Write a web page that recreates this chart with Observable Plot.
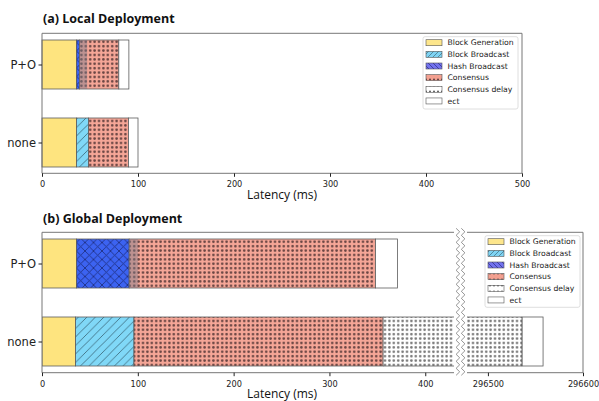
<!DOCTYPE html>
<html><head><meta charset="utf-8">
<script src="https://cdn.jsdelivr.net/npm/d3@7"></script>
<script src="https://cdn.jsdelivr.net/npm/@observablehq/plot@0.6"></script>
<style>
body{margin:0;background:#fff;}
#wrap{position:relative;width:599px;height:401px;overflow:hidden;background:#fff;}
#wrap svg{position:absolute;left:0;overflow:visible;}
</style></head><body><div id="wrap"></div>
<script>
const categories = ["P+O", "none"];
const seriesNames = ["Block Generation", "Block Broadcast", "Hash Broadcast", "Consensus", "Consensus delay", "ect"];

// durations (ms) in stacking order, per category [P+O, none]
const localBlockGeneration = [36, 36];
const localBlockBroadcast = [0, 12.5];
const localHashBroadcast = [3, 0];
const localConsensus = [41, 41.5];
const localConsensusDelay = [0, 0];
const localEct = [10.5, 10];
const localOverlap = [8, 0];

const globalBlockGeneration = [36, 35];
const globalBlockBroadcast = [0, 61];
const globalHashBroadcast = [55, 0];
const globalConsensus = [257, 260];
const globalConsensusDelay = [0, 296180];
const globalEct = [23, 22];
const globalOverlap = [9, 0];

const localTicks = [0, 100, 200, 300, 400, 500];
const globalTicksLeft = [0, 100, 200, 300, 400];
const globalTicksRight = [296500, 296600];
const globalLeftDomain = [0, 430];
const globalRightDomain = [296478, 296600];
const titles = ["(a) Local Deployment", "(b) Global Deployment"];
const xLabel = "Latency (ms)";

function buildRows(series, overlap) {
  const rows = [], over = [];
  categories.forEach((cat, i) => {
    let acc = 0;
    seriesNames.forEach((name, j) => {
      const v = series[j][i];
      if (v > 0) {
        rows.push({cat, name, x1: acc, x2: acc + v});
        if (name === "Consensus" && overlap[i] > 0) over.push({cat, x1: acc, x2: acc + overlap[i]});
      }
      acc += v;
    });
  });
  return {rows, over};
}

const local = buildRows([localBlockGeneration, localBlockBroadcast, localHashBroadcast, localConsensus, localConsensusDelay, localEct], localOverlap);
const global = buildRows([globalBlockGeneration, globalBlockBroadcast, globalHashBroadcast, globalConsensus, globalConsensusDelay, globalEct], globalOverlap);

function fillsFor(p) {
  return {
    "Block Generation": "#fee47f",
    "Block Broadcast": `url(#${p}BB)`,
    "Hash Broadcast": `url(#${p}HB)`,
    "Consensus": `url(#${p}C)`,
    "Consensus delay": `url(#${p}CD)`,
    "ect": "#ffffff"
  };
}
function legendFillsFor(p) {
  return {
    "Block Generation": "#fde68c",
    "Block Broadcast": `url(#${p}BBl)`,
    "Hash Broadcast": `url(#${p}HBl)`,
    "Consensus": `url(#${p}Cl)`,
    "Consensus delay": `url(#${p}CDl)`,
    "ect": "#ffffff"
  };
}

function defsMark(p) {
  return () => {
    const defs = d3.create("svg:defs");
    const pat = (id, w, h, bg) => {
      const pt = defs.append("pattern").attr("id", p + id).attr("patternUnits", "userSpaceOnUse")
        .attr("width", w).attr("height", h);
      pt.append("rect").attr("width", w).attr("height", h).attr("fill", bg);
      return pt;
    };
    const s = 8.5;
    pat("BB", s, s, "#80d8f7").append("path")
      .attr("d", `M0,${s} L${s},0 M-1,1 L1,-1 M${s-1},${s+1} L${s+1},${s-1}`)
      .attr("stroke", "#3d6b7d").attr("stroke-width", 0.85);
    pat("HB", s, s, "#3c63f1").append("path")
      .attr("d", `M0,${s} L${s},0 M-1,1 L1,-1 M${s-1},${s+1} L${s+1},${s-1} M0,0 L${s},${s} M-1,${s-1} L1,${s+1} M${s-1},-1 L${s+1},1`)
      .attr("stroke", "#1f2f80").attr("stroke-width", 0.85);
    const d = 4.4;
    pat("C", d, d, "#f5a697").append("circle").attr("cx", d/2).attr("cy", d/2).attr("r", 1.3).attr("fill", "#684442");
    pat("CD", d, d, "#ffffff").append("circle").attr("cx", d/2).attr("cy", d/2).attr("r", 1.3).attr("fill", "#777777");
    const l = 5;
    pat("BBl", l, l, "#7fd3f3").append("path")
      .attr("d", `M0,${l} L${l},0 M-1,1 L1,-1 M${l-1},${l+1} L${l+1},${l-1}`)
      .attr("stroke", "#3d6b7d").attr("stroke-width", 0.7);
    pat("HBl", l, l, "#7272ee").append("path")
      .attr("d", `M0,0 L${l},${l} M-1,${l-1} L1,${l+1} M${l-1},-1 L${l+1},1`)
      .attr("stroke", "#2b2b80").attr("stroke-width", 0.7);
    const c = 4;
    pat("Cl", c, 6, "#f3a090").append("circle").attr("cx", c/2).attr("cy", 1.5).attr("r", 1.1).attr("fill", "#6a4644");
    pat("CDl", c, 6, "#ffffff").append("circle").attr("cx", c/2).attr("cy", 1.5).attr("r", 1.1).attr("fill", "#666");
    return defs.node();
  };
}

function legendMark(p, x0, y0, w, h, rowY0, step) {
  return () => {
    const g = d3.create("svg:g").attr("text-anchor", "start");
    g.append("rect").attr("x", x0).attr("y", y0).attr("width", w).attr("height", h)
      .attr("rx", 2).attr("fill", "#fff").attr("fill-opacity", 0.85).attr("stroke", "#d6d6d6").attr("stroke-width", 0.8);
    const lf = legendFillsFor(p);
    seriesNames.forEach((name, i) => {
      const cy = rowY0 + i * step;
      g.append("rect").attr("x", x0 + 3).attr("y", cy - 3).attr("width", 16).attr("height", 6)
        .attr("fill", lf[name]).attr("stroke", "#555").attr("stroke-width", 0.6);
      g.append("text").attr("x", x0 + 24.5).attr("y", cy).attr("dy", "0.35em").attr("text-anchor", "start")
        .attr("font-family", "DejaVu Sans").attr("font-size", 7.7).attr("fill", "#222").text(name);
    });
    return g.node();
  };
}

function textMark(title, titleY, labelY) {
  return () => {
    const g = d3.create("svg:g");
    g.append("text").attr("x", 43).attr("y", titleY).attr("text-anchor", "start").attr("font-family", "Open Sans")
      .attr("font-weight", 700).attr("font-size", 12.5).attr("fill", "#111").text(title);
    g.append("text").attr("x", 282).attr("y", labelY).attr("text-anchor", "middle")
      .attr("font-family", "Open Sans").attr("font-size", 12).attr("fill", "#111").text(xLabel);
    return g.node();
  };
}

// partial frame: sides is a string containing any of "t","b","l","r"
function partFrame(sides) {
  return (index, scales, values, dim) => {
    const l = dim.marginLeft, r = dim.width - dim.marginRight;
    const t = dim.marginTop, b = dim.height - dim.marginBottom;
    let d = "";
    if (sides.includes("t")) d += `M${l},${t}H${r}`;
    if (sides.includes("b")) d += `M${l},${b}H${r}`;
    if (sides.includes("l")) d += `M${l},${t}V${b}`;
    if (sides.includes("r")) d += `M${r},${t}V${b}`;
    return d3.create("svg:path").attr("d", d).attr("stroke", "#777").attr("fill", "none").attr("stroke-width", 1).node();
  };
}

function breakMark() {
  return (index, scales, values, dim) => {
    const top = dim.marginTop, bot = dim.height - dim.marginBottom;
    const mid = dim.marginLeft - 6.5;
    const g = d3.create("svg:g").attr("fill", "none");
    for (const off of [-2.6, 2.6]) {
      let dpath = "";
      const cx = mid + off;
      for (let y = top - 4, k = 0; y <= bot + 3; y += 3.5, k++) {
        dpath += (k === 0 ? "M" : "L") + (cx + (k % 2 ? 1.8 : -1.8)) + "," + y;
      }
      g.append("path").attr("d", dpath).attr("stroke", "#888").attr("stroke-width", 0.9);
    }
    return g.node();
  };
}

const wrap = document.getElementById("wrap");
const baseStyle = {fontFamily: "DejaVu Sans", background: "transparent", color: "#222"};
const yOpts = {domain: categories, paddingInner: 0.375, paddingOuter: 0.08};

// ---------- (a) Local ----------
const fa = fillsFor("a");
const chartA = Plot.plot({
  width: 599, height: 201,
  marginLeft: 42, marginRight: 77, marginTop: 33.3, marginBottom: 27.7,
  x: {domain: [0, 500]},
  y: yOpts,
  color: {type: "identity"},
  style: baseStyle,
  marks: [
    defsMark("a"),
    Plot.barX(local.rows, {x1: "x1", x2: "x2", y: "cat", fill: d => fa[d.name], stroke: "#5c5c5c", strokeWidth: 0.8}),
    Plot.barX(local.over, {x1: "x1", x2: "x2", y: "cat", fill: "#7a7a8a", fillOpacity: 0.45}),
    partFrame("tblr"),
    Plot.axisX({ticks: localTicks, tickFormat: "d", tickSize: 3.5, tickPadding: 4, fontSize: 8.2, label: null}),
    Plot.axisY({tickSize: 3.5, tickPadding: 3, fontSize: 11.5, label: null}),
    legendMark("a", 423, 36.7, 95, 72.3, 42.7, 11.65),
    textMark(titles[0], 23, 199)
  ]
});
chartA.style.top = "0px";
wrap.appendChild(chartA);

// ---------- (b) Global, left part ----------
const fbl = fillsFor("bl");
const chartBL = Plot.plot({
  width: 599, height: 201,
  marginLeft: 42, marginRight: 599 - 454, marginTop: 32.3, marginBottom: 28.3,
  x: {domain: globalLeftDomain},
  y: yOpts,
  color: {type: "identity"},
  style: baseStyle,
  marks: [
    defsMark("bl"),
    Plot.barX(global.rows, {x1: "x1", x2: "x2", y: "cat", fill: d => fbl[d.name], stroke: "#5c5c5c", strokeWidth: 0.8, clip: true}),
    Plot.barX(global.over, {x1: "x1", x2: "x2", y: "cat", fill: "#7a7a8a", fillOpacity: 0.45, clip: true}),
    partFrame("tbl"),
    Plot.axisX({ticks: globalTicksLeft, tickFormat: "d", tickSize: 3.5, tickPadding: 4, fontSize: 8.2, label: null}),
    Plot.axisY({tickSize: 3.5, tickPadding: 3, fontSize: 11.5, label: null}),
    textMark(titles[1], 22.7, 197.5)
  ]
});
chartBL.style.top = "200px";
wrap.appendChild(chartBL);

// ---------- (b) Global, right part ----------
const fbr = fillsFor("br");
const chartBR = Plot.plot({
  width: 599, height: 201,
  marginLeft: 467, marginRight: 16, marginTop: 32.3, marginBottom: 28.3,
  x: {domain: globalRightDomain},
  y: {...yOpts, axis: null},
  color: {type: "identity"},
  style: baseStyle,
  marks: [
    defsMark("br"),
    Plot.barX(global.rows, {x1: "x1", x2: "x2", y: "cat", fill: d => fbr[d.name], stroke: "#5c5c5c", strokeWidth: 0.8, clip: true}),
    partFrame("tbr"),
    breakMark(),
    Plot.axisX({ticks: globalTicksRight, tickFormat: "d", tickSize: 3.5, tickPadding: 4, fontSize: 8.2, label: null}),
    legendMark("br", 485, 35.7, 95, 71.6, 41.7, 11.65)
  ]
});
chartBR.style.top = "200px";
wrap.appendChild(chartBR);
</script>
</body></html>
